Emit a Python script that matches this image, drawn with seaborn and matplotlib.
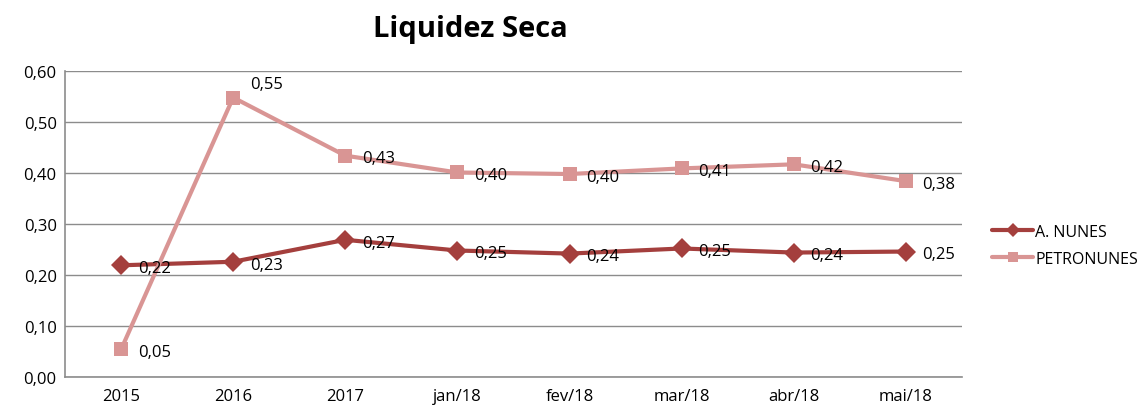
import matplotlib
matplotlib.use('Agg')
import matplotlib.pyplot as plt
import seaborn as sns
import pandas as pd

# data
periods = ['2015', '2016', '2017', 'jan/18', 'fev/18', 'mar/18', 'abr/18', 'mai/18']
a_nunes = [0.219, 0.226, 0.269, 0.248, 0.242, 0.252, 0.244, 0.246]
petronunes = [0.054, 0.548, 0.434, 0.401, 0.398, 0.409, 0.417, 0.384]
series_names = ['A. NUNES', 'PETRONUNES']

sns.set_theme(style='white')
plt.rcParams['font.family'] = ['Open Sans', 'DejaVu Sans']
plt.rcParams['text.color'] = 'black'
plt.rcParams['xtick.color'] = 'black'
plt.rcParams['ytick.color'] = 'black'

df = pd.DataFrame({'periodo': periods * 2,
                   'valor': a_nunes + petronunes,
                   'serie': [series_names[0]] * len(periods) + [series_names[1]] * len(periods)})

colors = {'A. NUNES': '#A43F3D', 'PETRONUNES': '#D99594'}
markers = {'A. NUNES': 'D', 'PETRONUNES': 's'}

fig = plt.figure(figsize=(11.48, 4.14), dpi=100)
ax = fig.add_axes([65 / 1148, 1 - 378 / 414, (962 - 65) / 1148, (378 - 72) / 414])

sns.lineplot(data=df, x='periodo', y='valor', hue='serie', style='serie',
             palette=colors, markers=markers, dashes=False, linewidth=3,
             markersize=10, markeredgewidth=0, sort=False, ax=ax)

ax.set_ylim(0, 0.6)
ax.set_yticks([i / 10 for i in range(7)])
ax.set_yticklabels([f'{i / 10:.2f}'.replace('.', ',') for i in range(7)], fontsize=12)
ax.set_xlim(-0.5, len(periods) - 0.5)
ax.tick_params(axis='x', labelsize=12, length=0, pad=8)
ax.tick_params(axis='y', length=0, pad=6)
ax.set_xlabel('')
ax.set_ylabel('')
ax.yaxis.grid(True, color='#8C8C8C', linewidth=1)
for side in ['top', 'right']:
    ax.spines[side].set_visible(False)
for side in ['left', 'bottom']:
    ax.spines[side].set_color('#8C8C8C')
    ax.spines[side].set_linewidth(1.2)

# value labels to the right of each point
for vals in [a_nunes, petronunes]:
    for i, v in enumerate(vals):
        dy = 10 if v > 0.5 else -2
        ax.annotate(f'{v:.2f}'.replace('.', ','), (i, v), xytext=(12, dy),
                    textcoords='offset points', ha='left', va='center', fontsize=12)

fig.text(470 / 1148, 1 - 30 / 414, 'Liquidez Seca', ha='center', va='center',
         fontsize=21, fontweight='bold')

leg = ax.legend(loc='center left', bbox_to_anchor=(1.028, 0.43), frameon=False,
                fontsize=11.5, handlelength=2.6, handletextpad=0.1, labelspacing=0.7,
                borderpad=0, borderaxespad=0.3)
for h in leg.legend_handles:
    h.set_markersize(7)

fig.savefig('out.png', dpi=100)
